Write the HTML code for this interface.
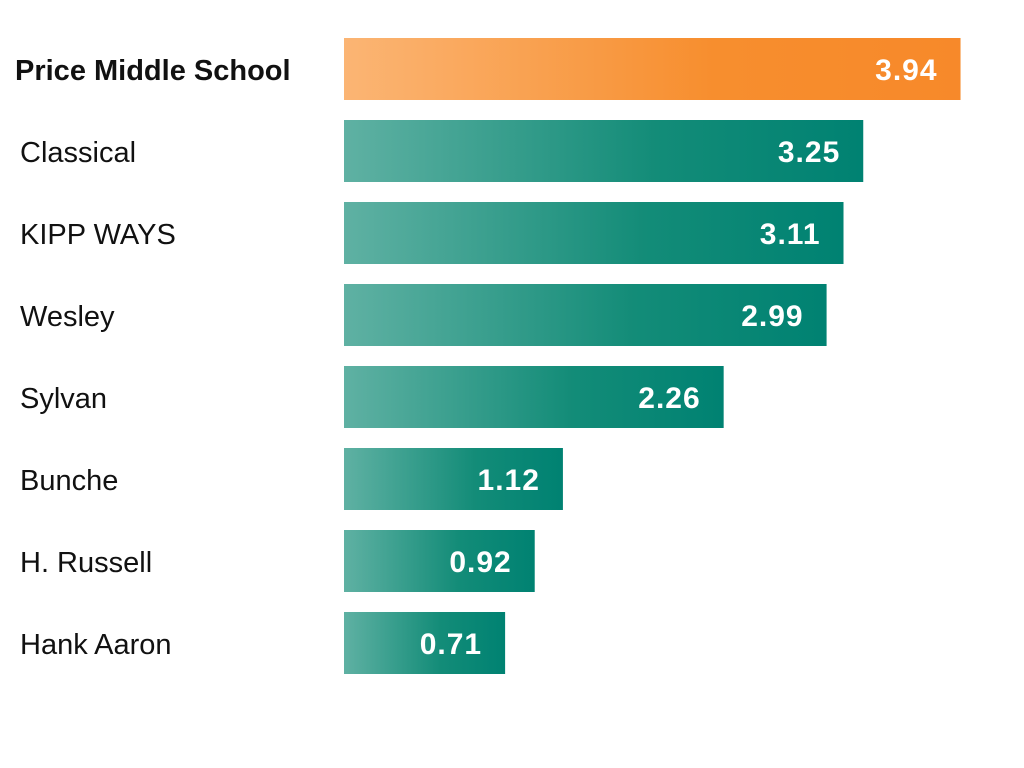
<!DOCTYPE html>
<html><head><meta charset="utf-8"><style>
html,body{margin:0;padding:0;background:#fff;}
svg{display:block;font-family:"Liberation Sans",sans-serif;}
</style></head><body>
<svg id="chart" width="1024" height="768">
<defs>
<linearGradient id="gOrange" x1="0" x2="1" y1="0" y2="0"><stop offset="0" stop-color="#fbb574"/><stop offset="0.6" stop-color="#f78e2e"/><stop offset="1" stop-color="#f7892a"/></linearGradient>
<linearGradient id="gTeal" x1="0" x2="1" y1="0" y2="0"><stop offset="0" stop-color="#5fb1a3"/><stop offset="0.6" stop-color="#138c78"/><stop offset="1" stop-color="#008272"/></linearGradient>
</defs>
</svg>
<script>
const categories=["Price Middle School","Classical","KIPP WAYS","Wesley","Sylvan","Bunche","H. Russell","Hank Aaron"];
const values=[3.94,3.25,3.11,2.99,2.26,1.12,0.92,0.71];
const valueLabels=["3.94","3.25","3.11","2.99","2.26","1.12","0.92","0.71"];
const svg=document.getElementById('chart');
const NS='http://www.w3.org/2000/svg';
const x0=344;
function xScale(v){return x0+61+(v)*141;}
function yScale(i){return 38+i*82;}
const barH=62;
categories.forEach((c,i)=>{
  const y=yScale(i);
  const w=xScale(values[i])-x0;
  const r=document.createElementNS(NS,'rect');
  r.setAttribute('x',x0);r.setAttribute('y',y);r.setAttribute('width',w);r.setAttribute('height',barH);
  r.setAttribute('fill',i===0?'url(#gOrange)':'url(#gTeal)');
  
  
  svg.appendChild(r);
  const t=document.createElementNS(NS,'text');
  t.setAttribute('x',x0+w-23);t.setAttribute('y',y+barH/2+11);
  t.setAttribute('text-anchor','end');t.setAttribute('fill','#fff');
  t.setAttribute('font-size','30');t.setAttribute('font-weight','bold');
  t.setAttribute('letter-spacing','1');
  t.textContent=valueLabels[i];
  
  
  svg.appendChild(t);
  const l=document.createElementNS(NS,'text');
  l.setAttribute('x',i===0?15:20);l.setAttribute('y',y+barH/2+11);
  l.setAttribute('fill','#111');l.setAttribute('font-size','29');
  if(i===0)l.setAttribute('font-weight','bold');
  l.textContent=c;
  
  
  svg.appendChild(l);
});
</script>
</body></html>
